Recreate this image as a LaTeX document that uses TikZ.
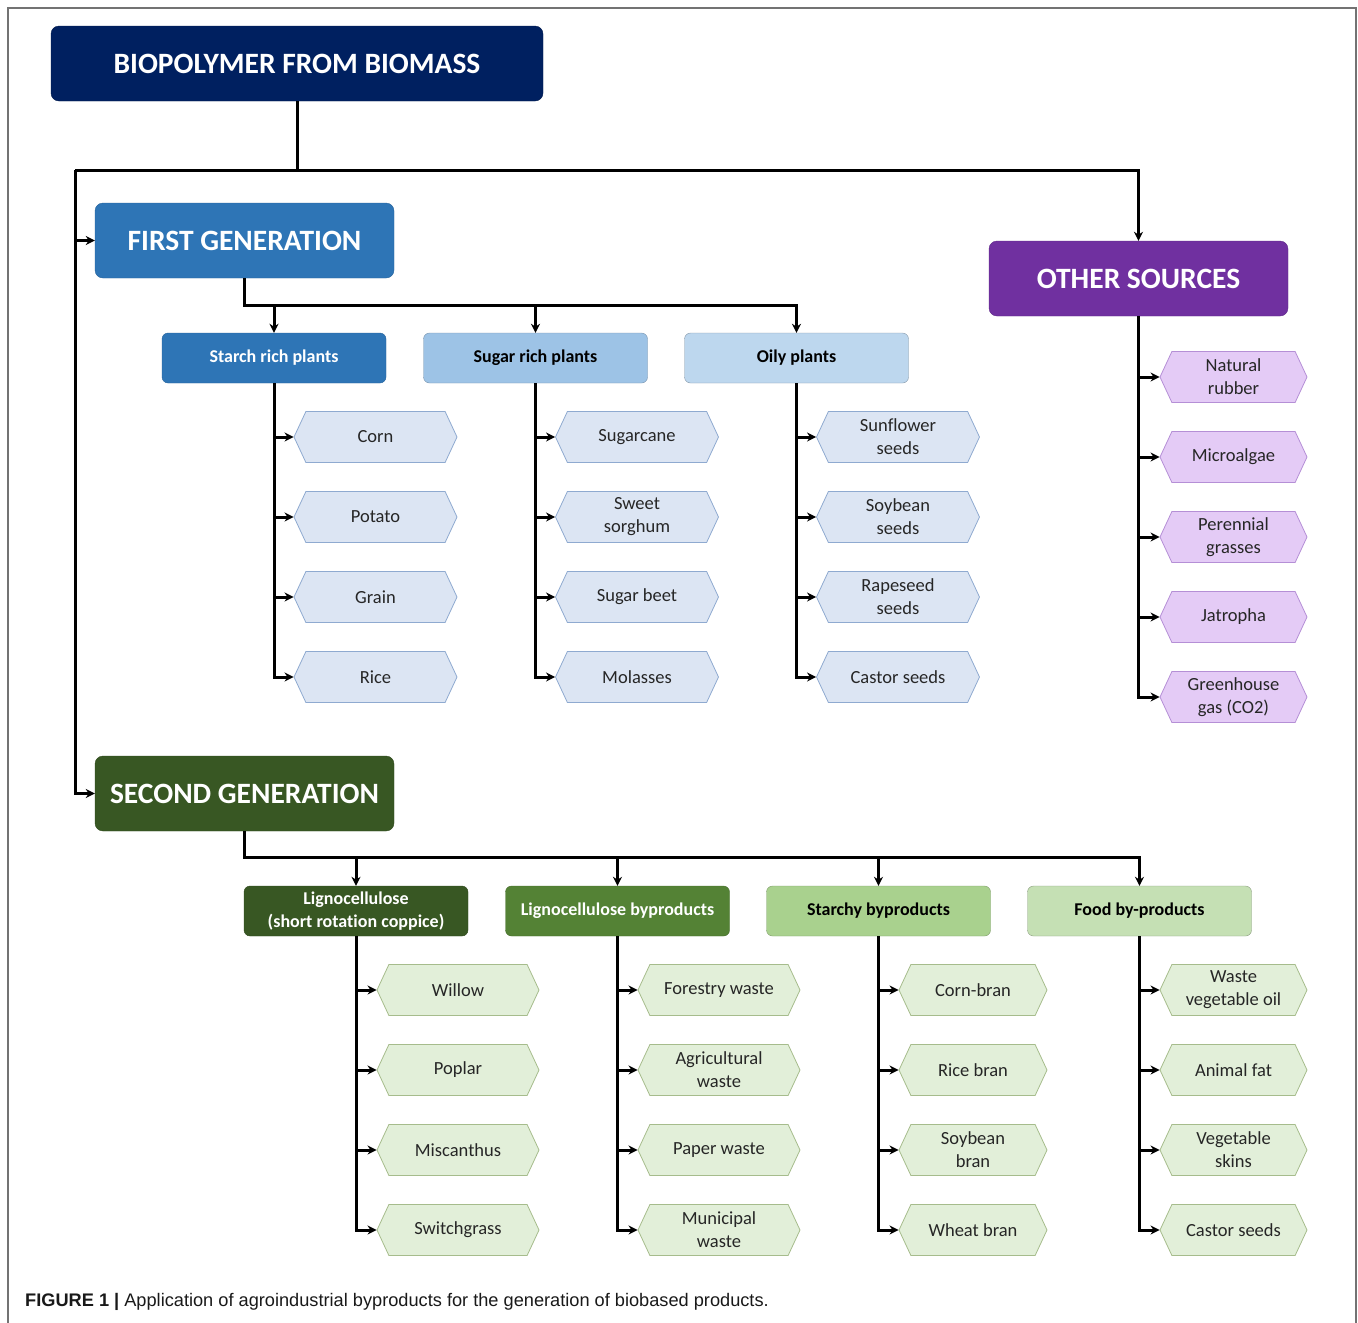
\documentclass[tikz,border=0pt]{standalone}
\usepackage{fontspec}
\setmainfont{Carlito}[Ligatures=NoCommon]
\newfontfamily\capfont{Liberation Sans}
\usepackage{xcolor}
\usepackage{tikz}
\usetikzlibrary{shapes.symbols, arrows.meta, positioning}

\definecolor{navy}{HTML}{002060}
\definecolor{fgblue}{HTML}{2E75B6}
\definecolor{sugarblue}{HTML}{9DC3E6}
\definecolor{oilyblue}{HTML}{BDD7EE}
\definecolor{hexblue}{HTML}{DCE5F3}
\definecolor{hexblueline}{HTML}{8FAAD0}
\definecolor{osviolet}{HTML}{7030A0}
\definecolor{hexviolet}{HTML}{E4CBF6}
\definecolor{hexvioletline}{HTML}{B58FD6}
\definecolor{sgdark}{HTML}{385723}
\definecolor{sgmid}{HTML}{548235}
\definecolor{sglight}{HTML}{A9D18E}
\definecolor{sgpale}{HTML}{C5E0B4}
\definecolor{hexgreen}{HTML}{E2EFD9}
\definecolor{hexgreenline}{HTML}{A6BC8C}

\begin{document}
\begin{tikzpicture}[x=1pt, y=-1pt,
    head/.style={rounded corners=8pt, minimum width=299pt, minimum height=75pt,
        font=\fontsize{29.5}{31}\selectfont\bfseries, text=white},
    cat/.style={rounded corners=6pt, minimum width=224pt, minimum height=50pt,
        font=\fontsize{18}{23}\selectfont\bfseries, align=center},
    hexa/.style={signal, signal to=east and west, signal pointer angle=130,
        minimum width=163pt, minimum height=51pt, inner sep=1pt, align=center,
        text=black!85, font=\fontsize{18.5}{23}\selectfont},
    bluehex/.style={hexa, fill=hexblue, draw=hexblueline, line width=0.8pt},
    violethex/.style={hexa, fill=hexviolet, draw=hexvioletline, line width=0.8pt, minimum width=147pt},
    greenhex/.style={hexa, fill=hexgreen, draw=hexgreenline, line width=0.8pt},
    wire/.style={line width=3pt},
    arr/.style={wire, -{Stealth[length=9pt,width=9pt]}}
]
  \useasboundingbox (0,0) rectangle (1358,1323);
  \draw[black!55, line width=1.2pt] (8,1323) -- (8,8) -- (1356,8) -- (1356,1323);

  % Main headers
  \node (title) at (297,63.5) [head, fill=navy, draw=navy!80!black, minimum width=492pt] {BIOPOLYMER FROM BIOMASS};
  \node (fg)    at (244.5,240.5) [head, fill=fgblue, draw=fgblue!85!black] {FIRST GENERATION};
  \node (os)    at (1138.5,278.5) [head, fill=osviolet, draw=osviolet!85!black] {OTHER SOURCES};
  \node (sg)    at (244.5,793.5) [head, fill=sgdark, draw=sgdark!85!black] {SECOND GENERATION};

  % First generation groups
  \node (starch) at (274,358)   [cat, fill=fgblue, draw=fgblue!85!black, text=white] {Starch rich plants};
  \node (sugar)  at (535.5,358) [cat, fill=sugarblue, draw=sugarblue!75!black] {Sugar rich plants};
  \node (oily)   at (796.5,358) [cat, fill=oilyblue, draw=oilyblue!70!black] {Oily plants};

  % Second generation groups
  \node (ligno)  at (356,911)    [cat, fill=sgdark, draw=sgdark!85!black, text=white] {Lignocellulose\\(short rotation coppice)};
  \node (lignob) at (617.5,911)  [cat, fill=sgmid, draw=sgmid!85!black, text=white] {Lignocellulose byproducts};
  \node (starchy) at (878.5,911) [cat, fill=sglight, draw=sglight!75!black] {Starchy byproducts};
  \node (food)   at (1139.5,911) [cat, fill=sgpale, draw=sgpale!70!black] {Food by-products};

  % Starch rich plants
  \node (corn)   at (375.5,437) [bluehex] {Corn};
  \node (potato) at (375.5,517) [bluehex] {Potato};
  \node (grain)  at (375.5,597) [bluehex] {Grain};
  \node (rice)   at (375.5,677) [bluehex] {Rice};
  % Sugar rich plants
  \node (cane)     at (637,437) [bluehex] {Sugarcane};
  \node (sorghum)  at (637,517) [bluehex] {Sweet\\sorghum};
  \node (beet)     at (637,597) [bluehex] {Sugar beet};
  \node (molasses) at (637,677) [bluehex] {Molasses};
  % Oily plants
  \node (sunflower) at (898,437) [bluehex] {Sunflower\\seeds};
  \node (soy)       at (898,517) [bluehex] {Soybean\\seeds};
  \node (rape)      at (898,597) [bluehex] {Rapeseed\\seeds};
  \node (castor)    at (898,677) [bluehex] {Castor seeds};
  % Other sources
  \node (rubber)   at (1233.5,377) [violethex] {Natural\\rubber};
  \node (algae)    at (1233.5,457) [violethex] {Microalgae};
  \node (grasses)  at (1233.5,537) [violethex] {Perennial\\grasses};
  \node (jatropha) at (1233.5,617) [violethex] {Jatropha};
  \node (ghg)      at (1233.5,697) [violethex] {Greenhouse\\gas (CO2)};

  % Lignocellulose
  \node (willow)  at (458,990)  [greenhex, minimum width=162pt] {Willow};
  \node (poplar)  at (458,1070) [greenhex, minimum width=162pt] {Poplar};
  \node (misc)    at (458,1150) [greenhex, minimum width=162pt] {Miscanthus};
  \node (switch)  at (458,1230) [greenhex, minimum width=162pt] {Switchgrass};
  % Lignocellulose byproducts
  \node (forest)  at (719,990)  [greenhex, minimum width=162pt] {Forestry waste};
  \node (agri)    at (719,1070) [greenhex, minimum width=162pt] {Agricultural\\waste};
  \node (paper)   at (719,1150) [greenhex, minimum width=162pt] {Paper waste};
  \node (munic)   at (719,1230) [greenhex, minimum width=162pt] {Municipal\\waste};
  % Starchy byproducts
  \node (cbran)   at (973,990)  [greenhex, minimum width=148pt] {Corn-bran};
  \node (rbran)   at (973,1070) [greenhex, minimum width=148pt] {Rice bran};
  \node (sbran)   at (973,1150) [greenhex, minimum width=148pt] {Soybean\\bran};
  \node (wbran)   at (973,1230) [greenhex, minimum width=148pt] {Wheat bran};
  % Food by-products
  \node (oil)     at (1233.5,990)  [greenhex, minimum width=147pt] {Waste\\vegetable oil};
  \node (fat)     at (1233.5,1070) [greenhex, minimum width=147pt] {Animal fat};
  \node (skins)   at (1233.5,1150) [greenhex, minimum width=147pt] {Vegetable\\skins};
  \node (castorb) at (1233.5,1230) [greenhex, minimum width=147pt] {Castor seeds};

  % Top level connectors
  \coordinate (lbus) at (75,170);
  \draw[wire] (title.south) |- (lbus);
  \draw[arr] (lbus) |- (fg.west);
  \draw[arr] (lbus) |- (sg.west);
  \draw[arr] (lbus) -| (os.north);

  % First generation connectors
  \foreach \g in {starch,sugar,oily}
      \draw[arr] (fg.south) -- ++(0,27) -| (\g.north);
  \foreach \c in {corn,potato,grain,rice}
      \draw[arr] (starch.south) |- (\c.west);
  \foreach \c in {cane,sorghum,beet,molasses}
      \draw[arr] (sugar.south) |- (\c.west);
  \foreach \c in {sunflower,soy,rape,castor}
      \draw[arr] (oily.south) |- (\c.west);
  \foreach \c in {rubber,algae,grasses,jatropha,ghg}
      \draw[arr] (os.south) |- (\c.west);

  % Second generation connectors
  \foreach \g in {ligno,lignob,starchy,food}
      \draw[arr] (sg.south) -- ++(0,26) -| (\g.north);
  \foreach \c in {willow,poplar,misc,switch}
      \draw[arr] (ligno.south) |- (\c.west);
  \foreach \c in {forest,agri,paper,munic}
      \draw[arr] (lignob.south) |- (\c.west);
  \foreach \c in {cbran,rbran,sbran,wbran}
      \draw[arr] (starchy.south) |- (\c.west);
  \foreach \c in {oil,fat,skins,castorb}
      \draw[arr] (food.south) |- (\c.west);

  % Caption
  \node (cap) at (25,1302) [anchor=west, inner sep=0pt, text=black!90,
      font=\capfont\fontsize{18.2}{20}\selectfont]
      {\textbf{FIGURE 1 |} Application of agroindustrial byproducts for the generation of biobased products.};
\end{tikzpicture}
\end{document}
